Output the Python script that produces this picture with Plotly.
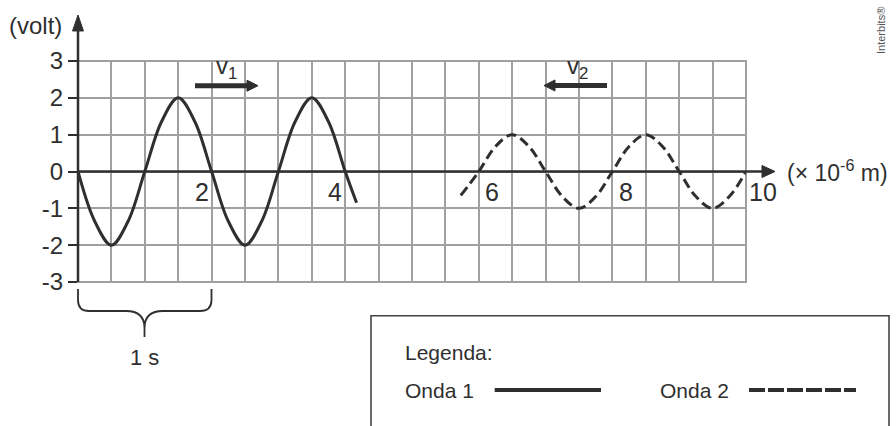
import plotly.graph_objects as go

# ---------------- data ----------------
wave1_x = [0, 0.25, 0.5, 0.75, 1, 1.25, 1.5, 1.75, 2, 2.25, 2.5, 2.75, 3, 3.25, 3.5, 3.75, 4, 4.17]
wave1_y = [0, -1.35, -2, -1.35, 0, 1.35, 2, 1.35, 0, -1.35, -2, -1.35, 0, 1.35, 2, 1.35, 0, -0.85]

wave2_x = [5.73, 6, 6.25, 6.5, 6.75, 7, 7.25, 7.5, 7.75, 8, 8.25, 8.5, 8.75, 9, 9.25, 9.5, 9.75, 10]
wave2_y = [-0.65, 0, 0.68, 1, 0.68, 0, -0.68, -1, -0.68, 0, 0.68, 1, 0.68, 0, -0.68, -1, -0.68, 0]

y_tick_vals = [-3, -2, -1, 0, 1, 2, 3]
y_tick_text = ["-3", "-2", "-1", "0", "1", "2", "3"]
x_label_vals = [2, 4, 6, 8, 10]
x_label_text = ["2", "4", "6", "8", "10"]
x_label_shift = [-0.15, -0.15, 0.2, 0.2, 0.26]   # label placement offsets (style)

series_names = ["Onda 1", "Onda 2"]

# ---------------- layout geometry ----------------
FW, FH = 896, 426
L, T, W, H = 78, 61, 668, 221
X0, X1 = 0, 10
Y0, Y1 = -3, 3
DARK = "#2f2f2f"
GRID = "#a0a0a0"
FONT = "Liberation Sans, Arial, Helvetica, sans-serif"


def pxp(xp):
    return (xp - L) / W


def pyp(yp):
    return (T + H - yp) / H


def path(cmds):
    out = []
    for c, pts in cmds:
        coords = " ".join(f"{pxp(a):.5f},{pyp(b):.5f}" for a, b in pts)
        out.append(f"{c} {coords}")
    return " ".join(out)


fig = go.Figure()
fig.add_trace(go.Scatter(x=wave1_x, y=wave1_y, mode="lines", name=series_names[0],
                         line=dict(color=DARK, width=3, shape="spline", smoothing=1),
                         showlegend=False, hoverinfo="skip"))
fig.add_trace(go.Scatter(x=wave2_x, y=wave2_y, mode="lines", name=series_names[1],
                         line=dict(color=DARK, width=3, shape="spline", smoothing=1, dash="10px,5px"),
                         showlegend=False, hoverinfo="skip"))

shapes = []
# grid border
shapes.append(dict(type="rect", xref="paper", yref="paper", x0=0, x1=1, y0=0, y1=1,
                   line=dict(color=GRID, width=2), layer="below"))
# y axis line + arrow
shapes.append(dict(type="line", xref="paper", yref="paper", x0=pxp(78), x1=pxp(78),
                   y0=pyp(282), y1=pyp(30), line=dict(color=DARK, width=2.5)))
shapes.append(dict(type="path", xref="paper", yref="paper",
                   path=path([("M", [(72.5, 31)]), ("L", [(78, 15)]), ("L", [(83.5, 31)])]) + " Z",
                   fillcolor=DARK, line=dict(color=DARK, width=1)))
# x axis line + arrow
y0p = T + H * (Y1 / (Y1 - Y0))
shapes.append(dict(type="line", xref="paper", yref="paper", x0=pxp(78), x1=pxp(763),
                   y0=pyp(y0p), y1=pyp(y0p), line=dict(color=DARK, width=2.5)))
shapes.append(dict(type="path", xref="paper", yref="paper",
                   path=path([("M", [(762, y0p - 6)]), ("L", [(775, y0p)]), ("L", [(762, y0p + 6)])]) + " Z",
                   fillcolor=DARK, line=dict(color=DARK, width=1)))
# brace under 0..2
brace = path([
    ("M", [(78, 289)]), ("L", [(78, 300)]), ("Q", [(78, 311), (89, 311)]),
    ("L", [(126, 311)]), ("Q", [(144.5, 311), (144.5, 328)]), ("L", [(144.5, 337)]),
    ("M", [(144.5, 328)]), ("Q", [(144.5, 311), (163, 311)]), ("L", [(200, 311)]),
    ("Q", [(211.5, 311), (211.5, 300)]), ("L", [(211.5, 289)]),
])
shapes.append(dict(type="path", xref="paper", yref="paper", path=brace,
                   line=dict(color=DARK, width=1.8)))
# velocity arrows
shapes.append(dict(type="line", xref="paper", yref="paper", x0=pxp(195), x1=pxp(249),
                   y0=pyp(85.7), y1=pyp(85.7), line=dict(color=DARK, width=5)))
shapes.append(dict(type="path", xref="paper", yref="paper",
                   path=path([("M", [(247, 80.2)]), ("L", [(258, 85.7)]), ("L", [(247, 91.2)])]) + " Z",
                   fillcolor=DARK, line=dict(color=DARK, width=1)))
shapes.append(dict(type="line", xref="paper", yref="paper", x0=pxp(553), x1=pxp(607),
                   y0=pyp(85.5), y1=pyp(85.5), line=dict(color=DARK, width=5)))
shapes.append(dict(type="path", xref="paper", yref="paper",
                   path=path([("M", [(555, 80)]), ("L", [(544, 85.5)]), ("L", [(555, 91)])]) + " Z",
                   fillcolor=DARK, line=dict(color=DARK, width=1)))
# legend box
shapes.append(dict(type="rect", xref="paper", yref="paper", x0=pxp(371), x1=pxp(889),
                   y0=pyp(445), y1=pyp(315.7), line=dict(color="#444444", width=1.6)))
shapes.append(dict(type="line", xref="paper", yref="paper", x0=pxp(494.7), x1=pxp(601),
                   y0=pyp(390), y1=pyp(390), line=dict(color=DARK, width=4)))
shapes.append(dict(type="line", xref="paper", yref="paper", x0=pxp(749), x1=pxp(856),
                   y0=pyp(390), y1=pyp(390), line=dict(color=DARK, width=4, dash="16px,3px")))

ann = []
txt = dict(color=DARK, family=FONT)


def add_text(text, xp, yp, size, xanchor="center", yanchor="middle", **kw):
    ann.append(dict(text=text, xref="paper", yref="paper", x=pxp(xp), y=pyp(yp),
                    xanchor=xanchor, yanchor=yanchor, showarrow=False,
                    font=dict(size=size, **txt), **kw))


add_text("(volt)", 35, 26, 24)
for v, t, s in zip(x_label_vals, x_label_text, x_label_shift):
    ann.append(dict(text=t, xref="paper", yref="paper",
                    x=(v + s - X0) / (X1 - X0), y=(-0.57 - Y0) / (Y1 - Y0),
                    xanchor="center", yanchor="middle", showarrow=False,
                    font=dict(size=25, **txt)))
add_text("(× 10<sup>-6</sup> m)", 785, 171, 23, xanchor="left")
add_text("1 s", 144.5, 357, 22)
add_text("v<sub>1</sub>", 214, 67, 24, xanchor="left")
add_text("v<sub>2</sub>", 565, 67, 24, xanchor="left")
add_text("Legenda:", 403, 352, 21, xanchor="left")
add_text(series_names[0], 403, 390, 21, xanchor="left")
add_text(series_names[1], 658, 390, 21, xanchor="left")
ann.append(dict(text="Interbits®", xref="paper", yref="paper", x=pxp(881), y=pyp(31),
                xanchor="center", yanchor="middle", showarrow=False, textangle=-90,
                font=dict(size=11, color="#555555", family=FONT)))

fig.update_layout(
    width=FW, height=FH,
    margin=dict(l=L, r=FW - L - W, t=T, b=FH - T - H, pad=0),
    paper_bgcolor="white", plot_bgcolor="white",
    showlegend=False,
    shapes=shapes, annotations=ann,
    xaxis=dict(range=[X0, X1], dtick=0.5, tick0=0, showgrid=True, gridcolor=GRID, gridwidth=2,
               zeroline=False, showline=False, showticklabels=False, ticks="", fixedrange=True),
    yaxis=dict(range=[Y0, Y1], tickvals=y_tick_vals, ticktext=y_tick_text, showgrid=True,
               gridcolor=GRID, gridwidth=2, zeroline=False, showline=False,
               ticks="outside", ticklen=9, tickwidth=2, tickcolor=DARK,
               tickfont=dict(size=24, color=DARK, family=FONT), fixedrange=True),
)

fig.write_html("out.html", config={"displayModeBar": False},
               post_script="document.body.style.margin='0px';document.body.style.overflow='hidden';")
